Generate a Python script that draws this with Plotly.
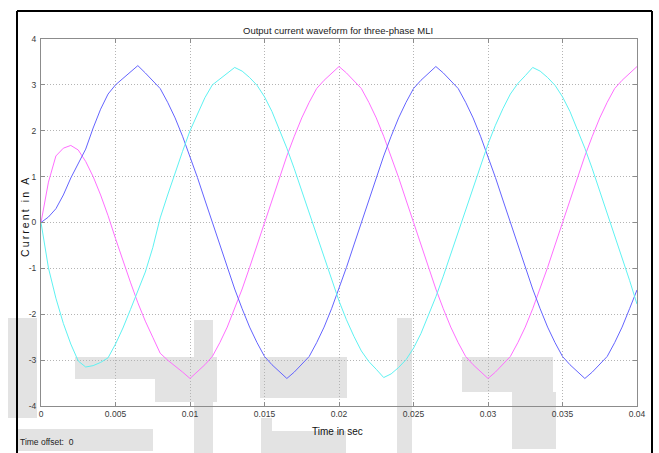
import plotly.graph_objects as go

# ---------------- data ----------------
time_s = [round(i * 0.0005, 4) for i in range(81)]

phase_blue = [
    0.00, 0.12, 0.30, 0.60, 0.97, 1.28, 1.60, 2.06, 2.47, 2.80,
    3.00, 3.14, 3.27, 3.42, 3.26, 3.10, 2.92, 2.62, 2.28, 1.88,
    1.45, 0.98, 0.49, 0.00, -0.49, -0.98, -1.45, -1.88, -2.28, -2.62,
    -2.92, -3.10, -3.26, -3.40, -3.26, -3.10, -2.92, -2.62, -2.28, -1.88,
    -1.45, -0.98, -0.49, 0.00, 0.49, 0.98, 1.45, 1.88, 2.28, 2.62,
    2.92, 3.10, 3.26, 3.40, 3.26, 3.10, 2.92, 2.62, 2.28, 1.88,
    1.45, 0.98, 0.49, 0.00, -0.49, -0.98, -1.45, -1.88, -2.28, -2.62,
    -2.92, -3.10, -3.26, -3.40, -3.26, -3.10, -2.92, -2.62, -2.28, -1.88,
    -1.47,
]

phase_magenta = [
    0.00, 0.88, 1.45, 1.62, 1.68, 1.58, 1.33, 1.00, 0.60, 0.15,
    -0.35, -0.85, -1.30, -1.75, -2.15, -2.50, -2.85, -3.00, -3.12, -3.26,
    -3.40, -3.26, -3.10, -2.92, -2.62, -2.28, -1.88, -1.45, -0.98, -0.49,
    0.00, 0.49, 0.98, 1.45, 1.88, 2.28, 2.62, 2.92, 3.10, 3.26,
    3.40, 3.26, 3.10, 2.92, 2.62, 2.28, 1.88, 1.45, 0.98, 0.49,
    0.00, -0.49, -0.98, -1.45, -1.88, -2.28, -2.62, -2.92, -3.10, -3.26,
    -3.40, -3.26, -3.10, -2.92, -2.62, -2.28, -1.88, -1.45, -0.98, -0.49,
    0.00, 0.49, 0.98, 1.45, 1.88, 2.28, 2.62, 2.92, 3.10, 3.26,
    3.40,
]

phase_cyan = [
    0.00, -0.99, -1.65, -2.20, -2.65, -3.02, -3.15, -3.12, -3.05, -2.95,
    -2.65, -2.30, -1.90, -1.48, -1.08, -0.55, 0.10, 0.60, 1.10, 1.55,
    2.00, 2.38, 2.72, 3.00, 3.12, 3.24, 3.38, 3.30, 3.16, 2.99,
    2.74, 2.42, 2.04, 1.62, 1.17, 0.69, 0.20, -0.29, -0.78, -1.26,
    -1.71, -2.12, -2.48, -2.80, -3.03, -3.20, -3.38, -3.30, -3.16, -2.99,
    -2.74, -2.42, -2.04, -1.62, -1.17, -0.69, -0.20, 0.29, 0.78, 1.26,
    1.71, 2.12, 2.48, 2.80, 3.03, 3.20, 3.38, 3.30, 3.16, 2.99,
    2.74, 2.42, 2.04, 1.62, 1.17, 0.69, 0.20, -0.29, -0.78, -1.26,
    -1.78,
]

x_tick_values = [0, 0.005, 0.01, 0.015, 0.02, 0.025, 0.03, 0.035, 0.04]
x_tick_labels = ["0", "0.005", "0.01", "0.015", "0.02", "0.025", "0.03", "0.035", "0.04"]
y_tick_values = [-4, -3, -2, -1, 0, 1, 2, 3, 4]
y_tick_labels = ["-4", "-3", "-2", "-1", "0", "1", "2", "3", "4"]

title_text = "Output current waveform for three-phase MLI"
x_label = "Time in sec"
y_label = "Current in A"
offset_text = "Time offset:  0"

# ---------------- geometry helpers (pixel -> paper) ----------------
W, H = 659, 453
L, R, T, B = 41, 637, 39, 406


def px(x):
    return (x - L) / (R - L)


def py(y):
    return (B - y) / (B - T)


FONT = "Liberation Sans, Arial, sans-serif"

fig = go.Figure()
for name, vals, col in [
    ("phase A", phase_magenta, "#ff6eff"),
    ("phase B", phase_blue, "#6464ff"),
    ("phase C", phase_cyan, "#5ef2f2"),
]:
    fig.add_trace(go.Scatter(x=time_s, y=vals, mode="lines", name=name,
                             line=dict(color=col, width=1), showlegend=False))

axis_common = dict(
    showline=True, linecolor="#8c8c8c", linewidth=1, mirror="ticks",
    ticks="inside", ticklen=4, tickcolor="#8c8c8c",
    showgrid=True, gridcolor="#b4b4b4", griddash="1px,2px", gridwidth=1,
    zeroline=False,
    tickfont=dict(family=FONT, size=8.5, color="#3a3a3a"),
)

fig.update_xaxes(range=[0, 0.04], tickvals=x_tick_values, ticktext=x_tick_labels,
                 **axis_common)
fig.update_yaxes(range=[-4, 4], tickvals=y_tick_values, ticktext=y_tick_labels,
                 ticklabelstandoff=2, **axis_common)

# watermark-like grey patches (background, below everything)
patches = [
    (8, 318, 37, 418), (17, 429, 153, 451), (75, 357, 217, 379),
    (155, 379, 217, 402), (194, 320, 213, 453), (260, 357, 347, 398),
    (261, 418, 272, 453), (272, 431, 346, 453), (397, 318, 412, 453),
    (462, 357, 553, 392), (512, 392, 556, 449),
]
shapes = []
for x0, y0, x1, y1 in patches:
    shapes.append(dict(type="rect", xref="paper", yref="paper", layer="below",
                       x0=px(x0), x1=px(x1), y0=py(y1), y1=py(y0),
                       fillcolor="#e3e3e3", line=dict(width=0)))

# outer black frame
frame = [(17, 11, 17, 453), (17, 11, 652, 11), (652, 11, 652, 453)]
for x0, y0, x1, y1 in frame:
    shapes.append(dict(type="line", xref="paper", yref="paper", layer="above",
                       x0=px(x0), x1=px(x1), y0=py(y0), y1=py(y1),
                       line=dict(color="black", width=2)))

annotations = [
    dict(text=title_text, x=px(338), y=py(31), xref="paper", yref="paper",
         showarrow=False, xanchor="center", yanchor="middle",
         font=dict(family=FONT, size=9.5, color="#222222")),
    dict(text=x_label, x=px(337), y=py(431), xref="paper", yref="paper",
         showarrow=False, xanchor="center", yanchor="middle",
         font=dict(family=FONT, size=10, color="#111111")),
    dict(text="\u2009".join(list(y_label)), x=px(25), y=py(218), xref="paper", yref="paper",
         showarrow=False, xanchor="center", yanchor="middle", textangle=-90,
         font=dict(family=FONT, size=10.5, color="#111111")),
    dict(text=offset_text, x=px(18), y=py(442), xref="paper", yref="paper",
         showarrow=False, xanchor="left", yanchor="middle",
         font=dict(family=FONT, size=8.5, color="#222222")),
]

fig.update_layout(
    width=W, height=H,
    margin=dict(l=L, r=W - R, t=T, b=H - B, pad=0),
    paper_bgcolor="white", plot_bgcolor="rgba(0,0,0,0)",
    shapes=shapes, annotations=annotations,
    showlegend=False,
)

fig.write_html("out.html")
